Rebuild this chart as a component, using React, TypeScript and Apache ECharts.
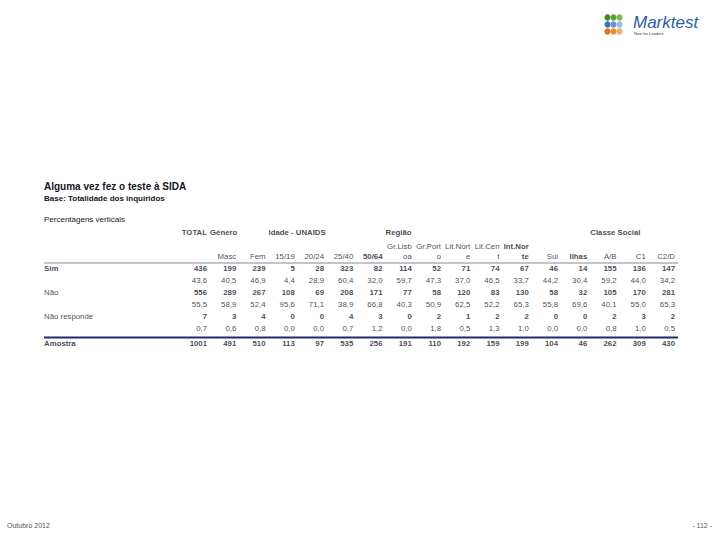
import React, { useEffect, useRef } from "react";
import * as echarts from "echarts";

// ---------- data ----------
const headerLine1 = ["", "", "", "", "", "", "", "Gr.Lisb", "Gr.Port", "Lit.Nort", "Lit.Cen", "Int.Nor", "", "", "", "", ""];
const headerLine2 = ["", "Masc", "Fem", "15/19", "20/24", "25/40", "50/64", "oa", "o", "e", "t", "te", "Sul", "Ilhas", "A/B", "C1", "C2/D"];
const boldHeaders = ["50/64", "Int.Nor", "te", "Ilhas"];
const groups = [
  { label: "Género", start: 1 },
  { label: "Idade - UNAIDS", start: 3 },
  { label: "Região", start: 7 },
  { label: "Classe Social", start: 14 },
];
const rowLabels = ["Sim", "Não", "Não responde", "Amostra"];
const simN = [436, 199, 239, 5, 28, 323, 82, 114, 52, 71, 74, 67, 46, 14, 155, 136, 147];
const simP = ["43,6", "40,5", "46,9", "4,4", "28,9", "60,4", "32,0", "59,7", "47,3", "37,0", "46,5", "33,7", "44,2", "30,4", "59,2", "44,0", "34,2"];
const naoN = [556, 289, 267, 108, 69, 208, 171, 77, 58, 120, 83, 130, 58, 32, 105, 170, 281];
const naoP = ["55,5", "58,9", "52,4", "95,6", "71,1", "38,9", "66,8", "40,3", "50,9", "62,5", "52,2", "65,3", "55,8", "69,6", "40,1", "55,0", "65,3"];
const nrN = [7, 3, 4, 0, 0, 4, 3, 0, 2, 1, 2, 2, 0, 0, 2, 3, 2];
const nrP = ["0,7", "0,6", "0,8", "0,0", "0,0", "0,7", "1,2", "0,0", "1,8", "0,5", "1,3", "1,0", "0,0", "0,0", "0,8", "1,0", "0,5"];
const amostra = [1001, 491, 510, 113, 97, 535, 256, 191, 110, 192, 159, 199, 104, 46, 262, 309, 430];

const ROW_Y = { sim: 0, simP: 1, nao: 2, naoP: 3, nr: 4, nrP: 5, amostra: 6.25 };
const HDR_Y = { group: -3, line1: -1.833, line2: -1 };
const LABEL_X = -5.57;

const FONT = "'Liberation Sans', Arial, sans-serif";
const TXT = "#15151f";

function mkSeries(name: string, data: any[], align: string, weight: string, size = 7.8, offsetX = 0) {
  return {
    type: "scatter",
    name,
    symbolSize: 1,
    color: TXT,
    itemStyle: { color: "rgba(0,0,0,0)", borderWidth: 0 },
    silent: true,
    data,
    label: {
      show: true,
      position: "inside",
      align,
      verticalAlign: "middle",
      offset: [offsetX, 0],
      formatter: "{b}",
      fontFamily: FONT,
      fontSize: size,
      fontWeight: weight,
      color: TXT,
      textBorderWidth: 0,
      textBorderColor: "transparent",
    },
  };
}

export default function App() {
  const ref = useRef<HTMLDivElement>(null);
  useEffect(() => {
    if (!ref.current) return;
    const chart = echarts.init(ref.current, undefined, { renderer: "svg" });

    const countData: any[] = [];
    const pctData: any[] = [];
    const pairs: [any[], number, any[]][] = [
      [simN, ROW_Y.sim, countData],
      [simP, ROW_Y.simP, pctData],
      [naoN, ROW_Y.nao, countData],
      [naoP, ROW_Y.naoP, pctData],
      [nrN, ROW_Y.nr, countData],
      [nrP, ROW_Y.nrP, pctData],
      [amostra, ROW_Y.amostra, countData],
    ];
    pairs.forEach(([arr, y, target]) => {
      arr.forEach((v, i) => target.push({ name: String(v), value: [i, y] }));
    });

    const hdrNormal: any[] = [];
    const hdrBold: any[] = [];
    headerLine1.forEach((t, i) => {
      if (!t) return;
      (boldHeaders.includes(t) ? hdrBold : hdrNormal).push({ name: t, value: [i, HDR_Y.line1] });
    });
    headerLine2.forEach((t, i) => {
      if (!t) return;
      (boldHeaders.includes(t) ? hdrBold : hdrNormal).push({ name: t, value: [i, HDR_Y.line2] });
    });
    hdrBold.push({ name: "TOTAL", value: [0, HDR_Y.group] });

    const groupData = groups.map((g) => ({ name: g.label, value: [g.start - 1, HDR_Y.group] }));

    const rowLabelBold = [
      { name: rowLabels[0], value: [LABEL_X, ROW_Y.sim] },
      { name: rowLabels[3], value: [LABEL_X, ROW_Y.amostra] },
    ];
    const rowLabelNormal = [
      { name: rowLabels[1], value: [LABEL_X, ROW_Y.nao] },
      { name: rowLabels[2], value: [LABEL_X, ROW_Y.nr] },
    ];

    const logoColors = [
      ["#3c8a2e", "#58a23a", "#7dbb4c"],
      ["#3f6fb6", "#6f93cc", "#9db8e0"],
      ["#e5701c", "#ee8a33", "#f4ab6a"],
    ];
    const logo: any[] = [];
    logoColors.forEach((row, r) =>
      row.forEach((c, k) =>
        logo.push({
          type: "ellipse",
          shape: { cx: 607.5 + k * 6, cy: 17.5 + r * 7, rx: 3, ry: 3.2 },
          style: { fill: c },
        })
      )
    );

    chart.setOption({
      animation: false,
      backgroundColor: "#ffffff",
      grid: { left: 31.5, right: 45, top: 232, bottom: 197, containLabel: false },
      xAxis: { type: "value", min: -6, max: 16, show: false },
      yAxis: { type: "value", min: -3, max: 6.25, inverse: true, show: false },
      series: [
        mkSeries("counts", countData, "right", "bold"),
        mkSeries("pct", pctData, "right", "normal"),
        mkSeries("hdrNormal", hdrNormal, "right", "normal"),
        mkSeries("hdrBold", hdrBold, "right", "bold"),
        mkSeries("groups", groupData, "left", "bold", 7.8, 3),
        mkSeries("rowBold", rowLabelBold, "left", "bold"),
        mkSeries("rowNormal", rowLabelNormal, "left", "normal"),
      ],
      graphic: [
        {
          type: "text",
          left: 44,
          top: 181,
          style: { text: "Alguma vez fez o teste à SIDA", font: `bold 10px ${FONT}`, fill: TXT },
        },
        {
          type: "text",
          left: 44,
          top: 194,
          style: { text: "Base: Totalidade dos inquiridos", font: `bold 8px ${FONT}`, fill: TXT },
        },
        {
          type: "text",
          left: 44,
          top: 215,
          style: { text: "Percentagens verticais", font: `8px ${FONT}`, fill: TXT },
        },
        {
          type: "line",
          shape: { x1: 44, y1: 263, x2: 678, y2: 263 },
          style: { stroke: "#6a6a7a", lineWidth: 0.8 },
        },
        {
          type: "line",
          shape: { x1: 44, y1: 337.5, x2: 678, y2: 337.5 },
          style: { stroke: "#1f2c6b", lineWidth: 2 },
        },
        {
          type: "text",
          left: 7,
          top: 522,
          style: { text: "Outubro 2012", font: `7px ${FONT}`, fill: "#555" },
        },
        {
          type: "text",
          right: 8,
          top: 522,
          style: { text: "- 112 -", font: `7px ${FONT}`, fill: "#555" },
        },
        ...logo,
        {
          type: "text",
          left: 633,
          top: 14,
          style: { text: "Marktest", font: `italic 17px ${FONT}`, fill: "#2c5da8" },
        },
        {
          type: "text",
          left: 634,
          top: 31,
          style: { text: "Next for Leaders", font: `4px ${FONT}`, fill: "#333" },
        },
      ],
    });
    return () => chart.dispose();
  }, []);
  return (
    <div
      ref={ref}
      style={{ position: "fixed", left: 0, top: 0, width: 720, height: 540, background: "#fff" }}
    />
  );
}
